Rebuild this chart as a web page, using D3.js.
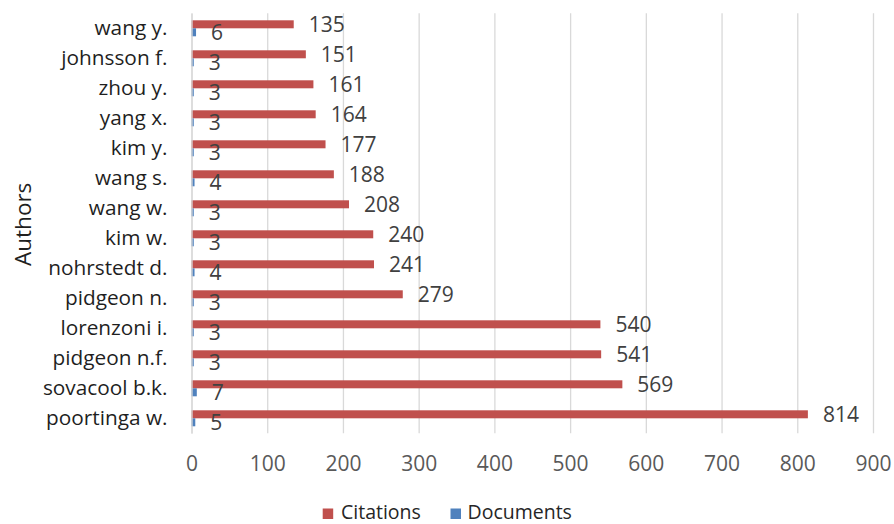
<!DOCTYPE html>
<html>
<head>
<meta charset="utf-8">
<script src="https://cdn.jsdelivr.net/npm/d3@7"></script>
<style>
  html, body { margin: 0; padding: 0; background: #fff; }
  svg { display: block; font-family: "Open Sans", sans-serif; }
</style>
</head>
<body>
<svg id="chart" width="894" height="524"></svg>
<script>
// Authors listed top to bottom
const authors = ["wang y.", "johnsson f.", "zhou y.", "yang x.", "kim y.", "wang s.", "wang w.",
                 "kim w.", "nohrstedt d.", "pidgeon n.", "lorenzoni i.", "pidgeon n.f.",
                 "sovacool b.k.", "poortinga w."];
const citations = [135, 151, 161, 164, 177, 188, 208, 240, 241, 279, 540, 541, 569, 814];
const documents = [6, 3, 3, 3, 3, 4, 3, 3, 4, 3, 3, 3, 7, 5];
const seriesNames = ["Citations", "Documents"];
const seriesColors = ["#C0504D", "#4F81BD"];
const xTicks = [0, 100, 200, 300, 400, 500, 600, 700, 800, 900];

const svg = d3.select("#chart");
const plot = { left: 191.5, right: 873, top: 13.3, bottom: 433.3 };

const x = d3.scaleLinear().domain([0, 900]).range([plot.left, plot.right]);
const y = d3.scaleBand().domain(authors).range([plot.top, plot.bottom]).paddingInner(0).paddingOuter(0);
const sub = d3.scaleBand().domain(seriesNames).range([0, y.bandwidth()]).paddingInner(0).paddingOuter(0.875);
const color = d3.scaleOrdinal().domain(seriesNames).range(seriesColors);

const rows = authors.map((a, i) => ({ author: a, Citations: citations[i], Documents: documents[i] }));

// vertical gridlines
svg.append("g")
  .attr("transform", `translate(0,${plot.bottom})`)
  .call(d3.axisBottom(x).tickValues(xTicks).tickSize(-(plot.bottom - plot.top)).tickFormat(""))
  .call(g => g.select(".domain").remove())
  .call(g => g.selectAll(".tick line").attr("stroke", "#d9d9d9").attr("stroke-width", 1.3));

// x tick labels
svg.append("g")
  .attr("transform", `translate(0,${plot.bottom})`)
  .call(d3.axisBottom(x).tickValues(xTicks).tickSize(0).tickPadding(23))
  .call(g => g.select(".domain").remove())
  .call(g => g.selectAll("text")
    .attr("font-family", "Open Sans, sans-serif")
    .attr("font-size", 21).attr("fill", "#595959"));

// bars
const groups = svg.append("g").selectAll("g")
  .data(rows).join("g")
  .attr("transform", d => `translate(0,${y(d.author)})`);

groups.selectAll("rect")
  .data(d => seriesNames.map(s => ({ key: s, value: d[s] })))
  .join("rect")
  .attr("x", x(0))
  .attr("y", d => sub(d.key))
  .attr("width", d => x(d.value) - x(0))
  .attr("height", sub.bandwidth())
  .attr("fill", d => color(d.key));

// value labels
groups.selectAll("text")
  .data(d => seriesNames.map(s => ({ key: s, value: d[s] })))
  .join("text")
  .attr("x", d => x(d.value) + 15)
  .attr("y", d => sub(d.key) + sub.bandwidth() / 2)
  .attr("dy", "0.36em")
  .attr("font-size", 21)
  .attr("fill", "#404040")
  .text(d => d.value);

// category axis
svg.append("g")
  .attr("transform", `translate(${plot.left},0)`)
  .call(d3.axisLeft(y).tickSize(0).tickPadding(24))
  .call(g => g.select(".domain").attr("stroke", "#d9d9d9").attr("stroke-width", 1.3))
  .call(g => g.selectAll("text")
    .attr("font-family", "Open Sans, sans-serif")
    .attr("font-size", 20.8).attr("fill", "#1f1f1f"));

// axis title
svg.append("text")
  .attr("transform", `translate(31,${(plot.top + plot.bottom) / 2 + 1}) rotate(-90)`)
  .attr("text-anchor", "middle")
  .attr("font-size", 22.5)
  .attr("fill", "#1f1f1f")
  .text("Authors");

// legend
const legend = svg.append("g");
const legendItems = [
  { name: "Citations", sx: 322.7, tx: 341 },
  { name: "Documents", sx: 450.5, tx: 467.5 }
];
legend.selectAll("rect").data(legendItems).join("rect")
  .attr("x", d => d.sx).attr("y", 508.5).attr("width", 10.5).attr("height", 10.5)
  .attr("fill", d => color(d.name));
legend.selectAll("text").data(legendItems).join("text")
  .attr("x", d => d.tx).attr("y", 518.5)
  .attr("font-size", 19.5).attr("fill", "#262626")
  .text(d => d.name);
</script>
</body>
</html>
